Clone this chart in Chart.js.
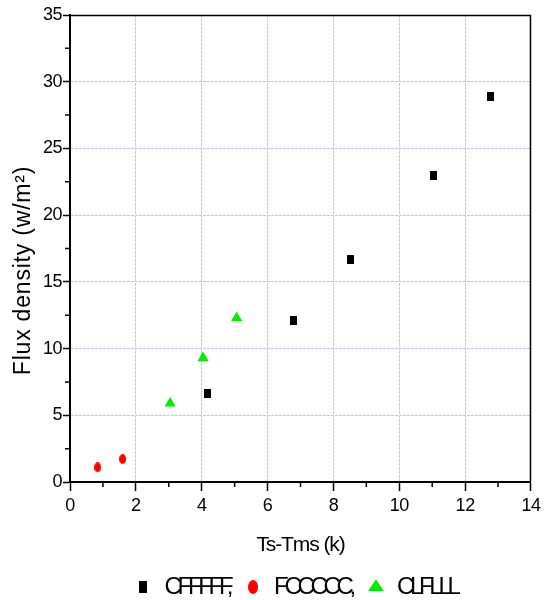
<!DOCTYPE html>
<html>
<head>
    <meta charset="utf-8" />
    <title>Flux density vs Ts-Tms</title>
    <script src="https://cdn.jsdelivr.net/npm/chart.js"></script>
    <style>
        body { margin: 0; padding: 0; background: #fff; }
        #chart { display: block; }
    </style>
</head>
<body>
    <canvas id="chart" width="545" height="600"></canvas>
    <script>
        // series names (as printed in the legend)
        var seriesNames = ['CFFFFF,', 'FCCCCC,', 'CLFLLL'];

        // values
        var cfX = [4.18, 6.8, 8.52, 11.05, 12.77];
        var cfY = [6.6, 12.1, 16.7, 23.0, 28.9];
        var fcX = [0.84, 1.6];
        var fcY = [1.1, 1.72];
        var clX = [3.04, 4.04, 5.06];
        var clY = [5.9, 9.3, 12.3];

        // axis ranges / ticks
        var xTicks = [0, 2, 4, 6, 8, 10, 12, 14];
        var yTicks = [0, 5, 10, 15, 20, 25, 30, 35];

        function pairs(xs, ys) {
            return xs.map(function(x, i) { return { x: x, y: ys[i] }; });
        }

        // small marker images
        function markerRect(w, h, color) {
            var c = document.createElement('canvas');
            c.width = w; c.height = h;
            var g = c.getContext('2d');
            g.fillStyle = color;
            g.fillRect(0, 0, w, h);
            return c;
        }
        function markerEllipse(w, h, color) {
            var c = document.createElement('canvas');
            c.width = w; c.height = h;
            var g = c.getContext('2d');
            g.fillStyle = color;
            g.beginPath();
            g.ellipse(w / 2, h / 2, w / 2, h / 2, 0, 0, Math.PI * 2);
            g.fill();
            return c;
        }
        var squareImg = markerRect(7, 9, '#000000');
        var dotImg = markerEllipse(7, 10, '#ff0000');
        // legend uses slightly bigger symbols
        var legendStyles = [markerRect(8, 12, '#000000'), markerEllipse(10, 14, '#ff0000'), 'triangle'];

        var gridBlue = '#c0c0ff';

        // run a draw function with a given letter spacing (and shift)
        function spaced(obj, name, spacing, dx, dy) {
            var orig = obj[name];
            obj[name] = function() {
                var ctx = this.ctx;
                ctx.save();
                ctx.letterSpacing = spacing;
                if (dx || dy) ctx.translate(dx || 0, dy || 0);
                var r = orig.apply(this, arguments);
                ctx.restore();
                return r;
            };
        }

        var framePlugin = {
            id: 'frame',
            beforeLayout: function(chart) {
                if (chart._patched) return;
                chart._patched = true;
                var lg = chart.legend;
                spaced(lg, 'fit', '-4.3px');
                spaced(lg, 'draw', '-4.3px', -5, 0);
                var origFit = lg.fit;
                lg.fit = function() {
                    origFit.apply(this, arguments);
                    this.height = 40;
                };
                spaced(chart.scales.x, 'drawLabels', '-0.5px');
                spaced(chart.scales.y, 'drawLabels', '-0.5px');
                spaced(chart.scales.x, 'drawTitle', '-1.1px');
                spaced(chart.scales.y, 'drawTitle', '0.8px', 0, 22);
            },
            afterDraw: function(chart) {
                var ctx = chart.ctx, a = chart.chartArea;
                var xs = chart.scales.x, ys = chart.scales.y;
                ctx.save();
                ctx.strokeStyle = '#000';
                ctx.lineWidth = 1.5;
                ctx.beginPath();
                ctx.moveTo(a.left, a.top + 0.5);
                ctx.lineTo(a.right - 0.5, a.top + 0.5);
                ctx.lineTo(a.right - 0.5, a.bottom);
                ctx.stroke();
                // minor ticks
                ctx.beginPath();
                for (var v = 1; v < 14; v += 2) {
                    var px = xs.getPixelForValue(v);
                    ctx.moveTo(px, a.bottom);
                    ctx.lineTo(px, a.bottom + 5);
                }
                for (var w = 2.5; w < 35; w += 5) {
                    var py = ys.getPixelForValue(w);
                    ctx.moveTo(a.left, py);
                    ctx.lineTo(a.left - 5, py);
                }
                ctx.stroke();
                ctx.restore();
            }
        };

        var tickFont = { family: "'Liberation Sans', Arial, sans-serif", size: 18 };

        new Chart(document.getElementById('chart'), {
            type: 'scatter',
            data: {
                datasets: [
                    {
                        label: seriesNames[0],
                        data: pairs(cfX, cfY),
                        pointStyle: squareImg,
                        backgroundColor: '#000000',
                        borderColor: '#000000'
                    },
                    {
                        label: seriesNames[1],
                        data: pairs(fcX, fcY),
                        pointStyle: dotImg,
                        backgroundColor: '#ff0000',
                        borderColor: '#ff0000'
                    },
                    {
                        label: seriesNames[2],
                        data: pairs(clX, clY),
                        pointStyle: 'triangle',
                        pointRadius: 6.4,
                        borderWidth: 0,
                        backgroundColor: '#00ee00',
                        borderColor: '#00ee00'
                    }
                ]
            },
            options: {
                responsive: false,
                animation: false,
                devicePixelRatio: 1,
                layout: { padding: { top: 15, right: 10, left: 0, bottom: 0 } },
                plugins: {
                    tooltip: { enabled: false },
                    legend: {
                        position: 'bottom',
                        fullSize: false,
                        labels: {
                            usePointStyle: true,
                            pointStyleWidth: 18,
                            boxHeight: 11,
                            color: '#000',
                            padding: 15,
                            font: { family: "'Liberation Sans', Arial, sans-serif", size: 24 },
                            generateLabels: function(chart) {
                                var items = Chart.defaults.plugins.legend.labels.generateLabels(chart);
                                items.forEach(function(it, i) {
                                    it.pointStyle = legendStyles[i];
                                    it.lineWidth = 0;
                                });
                                return items;
                            }
                        }
                    }
                },
                scales: {
                    x: {
                        type: 'linear',
                        min: 0,
                        max: 14,
                        afterFit: function(s) { s.height = 78; },
                        afterBuildTicks: function(s) { s.ticks = xTicks.map(function(v) { return { value: v }; }); },
                        ticks: { color: '#000', font: tickFont, padding: 4 },
                        grid: {
                            color: gridBlue,
                            tickColor: '#000',
                            tickLength: 9,
                            tickWidth: 1.5
                        },
                        border: { color: '#000', width: 2, dash: [3, 1] },
                        title: {
                            display: true,
                            text: 'Ts-Tms (k)',
                            color: '#000',
                            font: { family: "'Liberation Sans', Arial, sans-serif", size: 21 },
                            padding: { bottom: 2 }
                        }
                    },
                    y: {
                        type: 'linear',
                        min: 0,
                        max: 35,
                        afterFit: function(s) { s.width = 70; },
                        afterBuildTicks: function(s) { s.ticks = yTicks.map(function(v) { return { value: v }; }); },
                        ticks: { color: '#000', font: tickFont, padding: 1 },
                        grid: {
                            color: gridBlue,
                            tickColor: '#000',
                            tickLength: 7,
                            tickWidth: 1.5
                        },
                        border: { color: '#000', width: 2, dash: [3, 1] },
                        title: {
                            display: true,
                            text: 'Flux density (w/m\u00b2)',
                            color: '#000',
                            font: { family: "'Liberation Sans', Arial, sans-serif", size: 23 },
                            padding: { top: 10 }
                        }
                    }
                }
            },
            plugins: [framePlugin]
        });
    </script>
</body>
</html>
